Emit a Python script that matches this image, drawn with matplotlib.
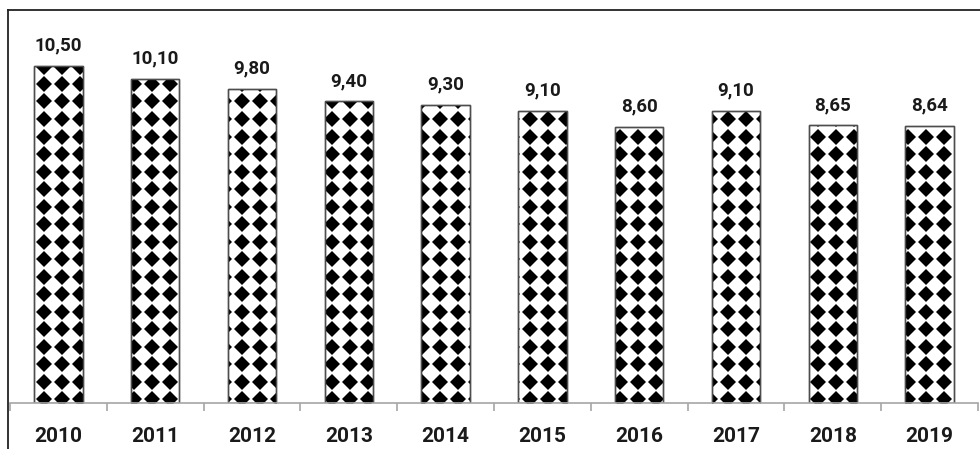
import numpy as np
import matplotlib
matplotlib.use("Agg")
import matplotlib.pyplot as plt
from matplotlib.lines import Line2D

# data
years = ["2010", "2011", "2012", "2013", "2014", "2015", "2016", "2017", "2018", "2019"]
values = [10.50, 10.10, 9.80, 9.40, 9.30, 9.10, 8.60, 9.10, 8.65, 8.64]

W, H = 980, 449
fig = plt.figure(figsize=(W / 100, H / 100), dpi=100)

# axes: baseline at y=403px, x from 10 to 978 px
ax = fig.add_axes([10 / W, (H - 403) / H, 968 / W, 385 / H])
ax.set_xlim(-0.5, len(years) - 0.5)
ax.set_ylim(0, 12)

x = np.arange(len(years))
bars = ax.bar(x, values, width=0.5, color="white", edgecolor="#4d4d4d",
              linewidth=1.0, zorder=2)

# diamond fill pattern, clipped to each bar
inv = ax.transData.inverted()
step_x, step_y = 18.0, 17.5
for b in bars:
    x0, y0 = ax.transData.transform((b.get_x(), 0))
    x1, y1 = ax.transData.transform((b.get_x() + b.get_width(), b.get_height()))
    # black diamonds on a fixed pixel grid
    gx = np.arange(np.floor(x0 / step_x) * step_x - step_x, x1 + step_x, step_x) + 8
    gy = np.arange(y0 - step_y, y1 + step_y, step_y) + 4
    px, py = np.meshgrid(gx, gy)
    pts = inv.transform(np.column_stack([px.ravel(), py.ravel()]))
    dm, = ax.plot(pts[:, 0], pts[:, 1], "D", color="black", markersize=8.0,
                  markeredgewidth=0, zorder=2.2)
    dm.set_clip_path(b)
    edge = plt.Rectangle((b.get_x(), 0), b.get_width(), b.get_height(),
                         facecolor="none", edgecolor="#4d4d4d", linewidth=1.0,
                         zorder=2.3)
    ax.add_patch(edge)

# value labels
for xi, v in zip(x, values):
    ax.annotate(f"{v:.2f}".replace(".", ","), (xi, v), xytext=(0, 11),
                textcoords="offset points", ha="center", va="baseline",
                fontsize=13.5, fontweight="bold", family="Roboto", color="#1a1a1a")

# axes styling
for s in ["left", "right", "top"]:
    ax.spines[s].set_visible(False)
ax.spines["bottom"].set_color("#a6a6a6")
ax.spines["bottom"].set_linewidth(1.2)
ax.set_yticks([])
ax.set_xticks(x)
ax.set_xticklabels(years, fontsize=15, fontweight="bold", family="Roboto",
                   color="#1a1a1a")
ax.set_xticks(np.arange(-0.5, len(years)), minor=True)
ax.tick_params(axis="x", which="major", length=0, pad=17)
ax.tick_params(axis="x", which="minor", length=6, width=1.2, color="#a6a6a6")

# outer border (top and left only visible)
fig.add_artist(Line2D([8 / W, 1], [1 - 10 / H, 1 - 10 / H],
                      transform=fig.transFigure, color="#222222", linewidth=1.3))
fig.add_artist(Line2D([8 / W, 8 / W], [0, 1 - 10 / H],
                      transform=fig.transFigure, color="#222222", linewidth=1.3))

fig.savefig("out.png", dpi=100)
